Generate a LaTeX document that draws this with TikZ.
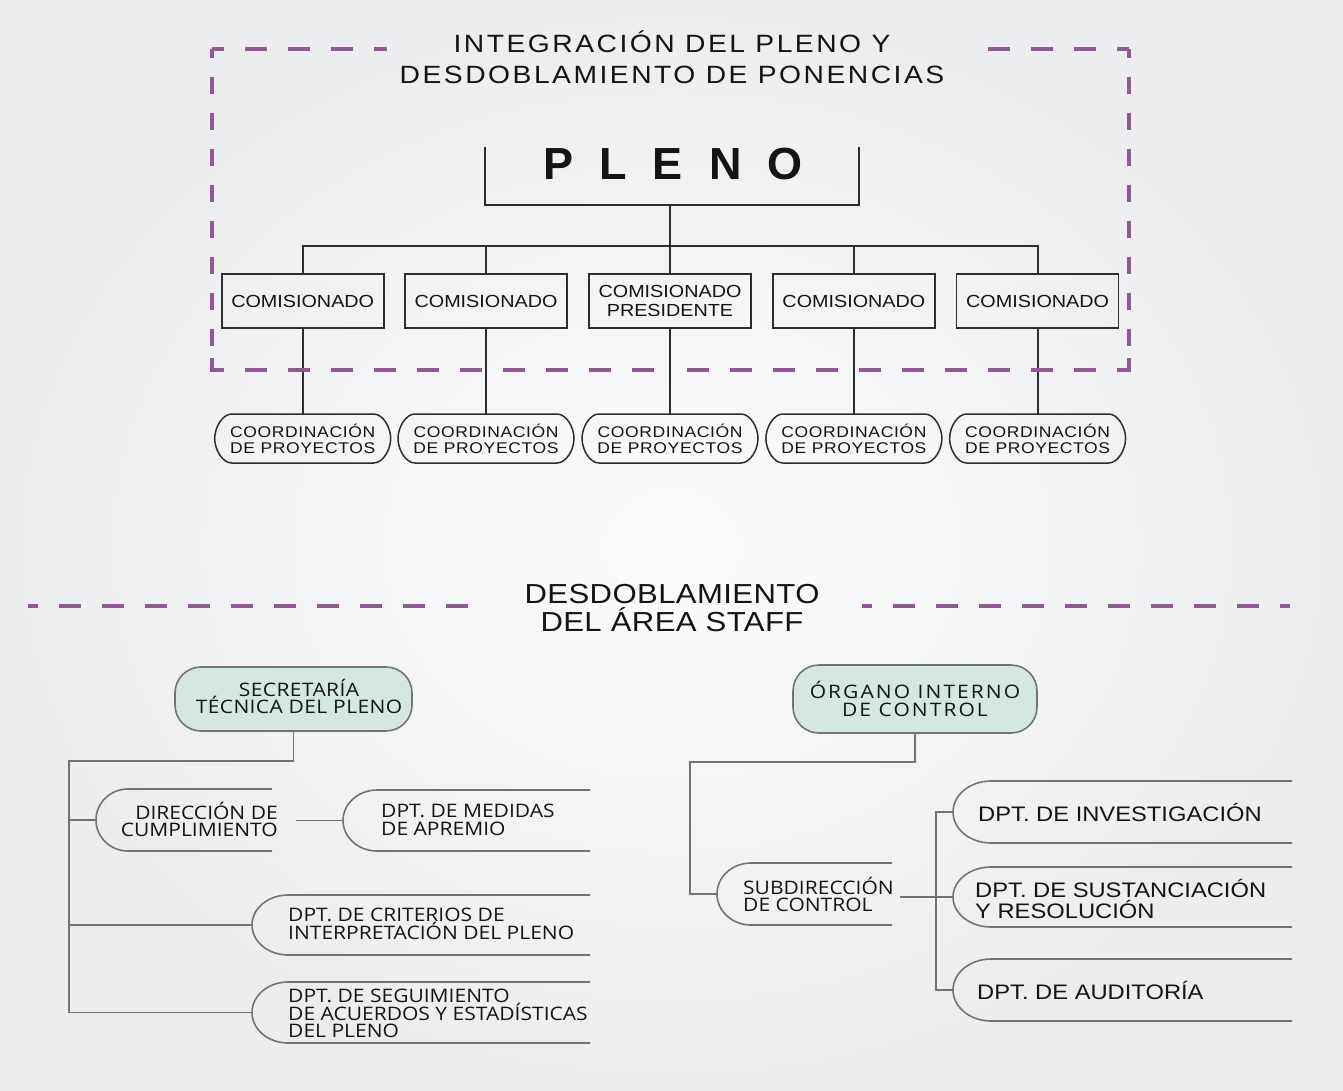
\documentclass[tikz,border=0pt]{standalone}
\usepackage{fontspec}
\setmainfont{Liberation Sans}
\newfontfamily\fA[FakeStretch=1.13]{Liberation Sans}
\newfontfamily\fP{Liberation Sans}
\newfontfamily\fM[FakeStretch=1.13]{Open Sans}
\usetikzlibrary{calc}
\definecolor{purp}{RGB}{142,90,145}
\definecolor{ink}{RGB}{20,20,20}
\definecolor{topln}{RGB}{45,45,45}
\definecolor{botln}{RGB}{115,115,115}
\definecolor{tealfill}{RGB}{214,231,227}
\definecolor{bgin}{RGB}{252,252,253}
\definecolor{bgout}{RGB}{236,237,239}

\newcommand\CL[1]{\vtop{\lineskiplimit=-100pt\halign{\hfil##\hfil\cr#1\crcr}}}
\newcommand\LL[1]{\vtop{\lineskiplimit=-100pt\halign{##\hfil\cr#1\crcr}}}
\newcommand\RL[1]{\vtop{\lineskiplimit=-100pt\halign{\hfil##\cr#1\crcr}}}

\newcommand\fTitle{\fA\fontsize{25}{31}\selectfont\addfontfeature{LetterSpace=10}}
\newcommand\fMid{\fA\fontsize{27.5}{28.5}\selectfont\addfontfeature{LetterSpace=1.5}}
\newcommand\fCom{\fA\fontsize{17.5}{19}\selectfont}
\newcommand\fCoo{\fA\fontsize{15.5}{16}\selectfont\addfontfeature{LetterSpace=4}}
\newcommand\fMy[2][0]{\fM\fontsize{18.6}{#2}\selectfont\addfontfeature{LetterSpace=#1}}
\newcommand\fDpt[1]{\fA\fontsize{21}{#1}\selectfont}

% open capsule: left x, top, bottom, right x, rx
\newcommand\opencap[5]{%
  \draw[lnB] (#4,#2) -- ({#1+#5},#2)
    .. controls ({#1+0.448*#5},#2) and (#1,{#2+0.224*(#3-#2)}) .. (#1,{0.5*(#2+#3)})
    .. controls (#1,{#3-0.224*(#3-#2)}) and ({#1+0.448*#5},#3) .. ({#1+#5},#3) -- (#4,#3);}
% closed oval: cx, cy, hw, hh, rx
\newcommand\ovalshape[5]{%
  \draw[lnO] ({#1-#3+#5},{#2-#4}) -- ({#1+#3-#5},{#2-#4})
    .. controls ({#1+#3-0.448*#5},{#2-#4}) and ({#1+#3},{#2-0.448*#4}) .. ({#1+#3},#2)
    .. controls ({#1+#3},{#2+0.448*#4}) and ({#1+#3-0.448*#5},{#2+#4}) .. ({#1+#3-#5},{#2+#4})
    -- ({#1-#3+#5},{#2+#4})
    .. controls ({#1-#3+0.448*#5},{#2+#4}) and ({#1-#3},{#2+0.448*#4}) .. ({#1-#3},#2)
    .. controls ({#1-#3},{#2-0.448*#4}) and ({#1-#3+0.448*#5},{#2-#4}) .. ({#1-#3+#5},{#2-#4}) -- cycle;}

\tikzset{
  txt/.style={inner sep=0pt, anchor=base, text=ink},
  lnT/.style={draw=topln, line width=1.8pt},
  lnO/.style={draw=topln, line width=1.5pt},
  lnB/.style={draw=botln, line width=1.6pt},
  cbox/.style={draw=topln, line width=1.6pt, minimum width=162pt, minimum height=54pt, inner sep=0pt},
  hole/.style={inner sep=0pt, minimum width=176pt, minimum height=49pt},
  rbox/.style={draw=botln, line width=1.6pt, fill=tealfill, rounded corners=26pt, inner sep=0pt},
  dashH/.style={draw=purp, line width=3.2pt, dash pattern=on 22pt off 21pt},
  dashV/.style={draw=purp, line width=3.2pt, dash pattern=on 17pt off 19pt},
}

\begin{document}
\begin{tikzpicture}[x=1pt,y=-1pt]
\useasboundingbox (0,0) rectangle (1343,1091);
\shade[inner color=bgin, outer color=bgout] (0,0) rectangle (1343,1091);

% ---------- top title ----------
\node[txt] (ttl) at (672,53) {\fTitle\CL{INTEGRACIÓN DEL PLENO Y\cr DESDOBLAMIENTO DE PONENCIAS}};

% ---------- PLENO ----------
\node[inner sep=0pt, minimum width=374pt, minimum height=58pt] (plenobox) at (672,176) {};
\node[txt] (plenot) at (673,180) {\fP\bfseries\fontsize{45}{45}\selectfont P\hspace{26pt}L\hspace{26pt}E\hspace{26pt}N\hspace{26pt}O};
\draw[lnT] (plenobox.north west) -- (plenobox.south west) -- (plenobox.south east) -- (plenobox.north east);

% ---------- comisionados ----------
\node[cbox] (c1) at (302.7,301) {};
\node[cbox] (c2) at (486,301) {};
\node[cbox] (c3) at (670,301) {};
\node[cbox] (c4) at (853.9,301) {};
\node[cbox] (c5) at (1037.6,301) {};
\node[txt] (c1t) at (302.7,307.3) {\fCom COMISIONADO};
\node[txt] (c2t) at (486,307.3) {\fCom COMISIONADO};
\node[txt] (c3t) at (670,298) {\fCom\CL{COMISIONADO\cr PRESIDENTE}};
\node[txt] (c4t) at (853.9,307.3) {\fCom COMISIONADO};
\node[txt] (c5t) at (1037.6,307.3) {\fCom COMISIONADO};

\coordinate (jc) at (670,246);
\draw[lnT] (plenobox.south -| c3) -- (c3.north);
\draw[lnT] (c1.north) |- (jc) -| (c5.north);
\draw[lnT] (c2.north) -- (c2.north |- jc);
\draw[lnT] (c4.north) -- (c4.north |- jc);

% ---------- coordinaciones ----------
\foreach \n/\cx in {1/302.7,2/486,3/670,4/853.9,5/1037.6}{
  \node[hole] (p\n) at (\cx,438.5) {};
  \ovalshape{\cx}{438.5}{88}{24.5}{17}
  \node[txt] (p\n t) at (\cx,437.5) {\fCoo\CL{COORDINACIÓN\cr DE PROYECTOS}};
  \draw[lnT] (c\n.south) -- (p\n.north);
}

% ---------- purple dashed frame ----------
\draw[dashH, dash phase=10pt] (212,49) -- (387,49);
\draw[dashH, dash phase=10pt] (1129,49) -- (973,49);
\draw[dashV, dash phase=8pt] (212,49) -- (212,370);
\draw[dashV, dash phase=8pt] (1129,49) -- (1129,370);
\draw[dashH, dash phase=10pt] (212,370) -- (672,370);
\draw[dashH, dash phase=10pt] (1129,370) -- (672,370);
\draw[draw=purp, line width=3.2pt] (212,358) -- (212,370) -- (224,370);
\draw[draw=purp, line width=3.2pt] (1129,358) -- (1129,370) -- (1117,370);

% ---------- middle title ----------
\node[txt] (mid) at (672,603) {\fMid\CL{DESDOBLAMIENTO\cr DEL ÁREA STAFF}};
\draw[dashH, dash phase=12pt] (28,606) -- (477,606);
\draw[dashH, dash phase=12pt] (862,606) -- (1290,606);

% ---------- left staff ----------
\node[rbox, minimum width=237pt, minimum height=64pt] (sec) at (293.5,699) {};
\node[txt] (sect) at (299,696.7) {\fMy[2]{17}\CL{SECRETARÍA\cr TÉCNICA DEL PLENO}};

\opencap{96}{789}{851}{272}{32}
\coordinate (dirtip) at (96,820);
\node[txt, anchor=base east] (dirt) at (278,819.5) {\fMy{17.2}\RL{DIRECCIÓN DE\cr CUMPLIMIENTO}};

\opencap{343}{790}{851}{590}{34}
\coordinate (medtip) at (343,820.5);
\node[txt, anchor=base west] (medt) at (381,817.5) {\fMy{17.5}\LL{DPT. DE MEDIDAS\cr DE APREMIO}};

\opencap{252}{895}{955}{590}{36}
\coordinate (critip) at (252,925);
\node[txt, anchor=base west] (crit) at (288,921.5) {\fMy{17.6}\LL{DPT. DE CRITERIOS DE\cr INTERPRETACIÓN DEL PLENO}};

\opencap{252}{982}{1043}{590}{36}
\coordinate (segtip) at (252,1012.5);
\node[txt, anchor=base west] (segt) at (288,1002.7) {\fMy{17.5}\LL{DPT. DE SEGUIMIENTO\cr DE ACUERDOS Y ESTADÍSTICAS\cr DEL PLENO}};

\coordinate (busL) at (69,761);
\coordinate (dirR) at (296,820.5);
\draw[lnB] (sec.south) |- (busL) |- (segtip);
\draw[lnB] (dirtip -| busL) -- (dirtip);
\draw[lnB] (critip -| busL) -- (critip);
\draw[lnB] (dirR) -- (medtip);

% ---------- right staff ----------
\node[rbox, minimum width=244pt, minimum height=68pt] (org) at (915,699) {};
\node[txt] (orgt) at (915,698.3) {\fMy[11]{17.7}\CL{ÓRGANO INTERNO\cr DE CONTROL}};

\opencap{717}{863}{925}{892}{34}
\coordinate (subtip) at (717,894);
\node[txt, anchor=base west] (subt) at (743,894.3) {\fMy{17.4}\LL{SUBDIRECCIÓN\cr DE CONTROL}};

\opencap{953}{781}{843}{1292}{38}
\coordinate (invtip) at (953,812);
\node[txt, anchor=base west] (invt) at (978,821.7) {\fDpt{21}DPT. DE INVESTIGACIÓN};

\opencap{953}{867}{927}{1292}{38}
\coordinate (sustip) at (953,897);
\node[txt, anchor=base west] (sust) at (975,897.3) {\fDpt{21}\LL{DPT. DE SUSTANCIACIÓN\cr Y RESOLUCIÓN}};

\opencap{953}{959}{1021}{1292}{38}
\coordinate (audtip) at (953,990);
\node[txt, anchor=base west] (audt) at (977,999) {\fDpt{21}DPT. DE AUDITORÍA};

\coordinate (busR) at (690,762);
\coordinate (vbus) at (936,897);
\coordinate (subR) at (900,897);
\draw[lnB] (org.south) |- (busR) |- (subtip);
\draw[lnB] (subR) -- (sustip);
\draw[lnB] (invtip) -| (vbus) |- (audtip);
\end{tikzpicture}
\end{document}
